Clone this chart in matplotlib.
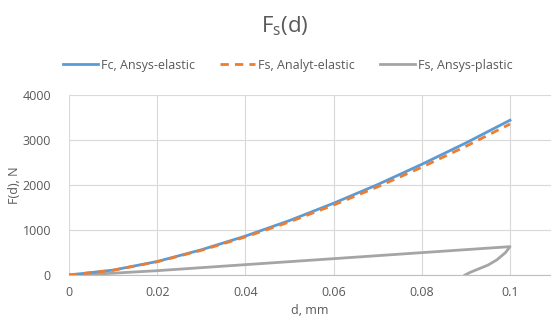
import matplotlib
matplotlib.use("Agg")
import matplotlib.pyplot as plt

plt.rcParams['font.family'] = ['Open Sans', 'DejaVu Sans']
plt.rcParams['mathtext.fontset'] = 'custom'
plt.rcParams['mathtext.rm'] = 'Open Sans'
plt.rcParams['mathtext.it'] = 'Open Sans'

# displacement, mm
d_el = [0.0, 0.01, 0.02, 0.03, 0.04, 0.05, 0.06, 0.07, 0.08, 0.09, 0.1]
# contact force, Ansys elastic model, N
fc_ansys_el = [0, 109, 300, 560, 865, 1210, 1595, 2010, 2460, 2935, 3440]
# analytical elastic solution, N
fs_analyt_el = [0, 105, 295, 548, 845, 1180, 1555, 1960, 2395, 2860, 3355]
# Ansys plastic model: loading then unloading
d_pl = [0.0, 0.005, 0.01, 0.02, 0.04, 0.06, 0.08, 0.1,
        0.099, 0.097, 0.095, 0.093, 0.091, 0.0898]
fs_ansys_pl = [0, 15, 40, 96, 230, 363, 497, 630,
               500, 335, 220, 140, 60, 0]

x_ticks = [0, 0.02, 0.04, 0.06, 0.08, 0.1]
x_tick_labels = ['0', '0.02', '0.04', '0.06', '0.08', '0.1']
y_ticks = [0, 1000, 2000, 3000, 4000]

W, H = 551, 320
fig = plt.figure(figsize=(W / 100, H / 100), dpi=100)
ax = fig.add_axes([69 / W, 1 - 275 / H, (W - 69) / W, 180 / H])

blue = '#5B9BD5'
orange = '#ED7D31'
gray = '#A5A5A5'
text_col = '#595959'

ax.plot(d_el, fc_ansys_el, color=blue, lw=2.0, label='Fc, Ansys-elastic', zorder=3)
ax.plot(d_el, fs_analyt_el, color=orange, lw=2.0, ls=(0, (3, 2.2)),
        label='Fs, Analyt-elastic', zorder=4)
ax.plot(d_pl, fs_ansys_pl, color=gray, lw=2.0, label='Fs, Ansys-plastic', zorder=2)

ax.set_xlim(0, (W - 69) / 4410)
ax.set_ylim(0, 4000)
ax.set_xticks(x_ticks)
ax.set_xticklabels(x_tick_labels)
ax.set_yticks(y_ticks)
ax.grid(True, color='#D9D9D9', lw=0.8)
ax.set_axisbelow(True)
for s in ['top', 'right', 'left']:
    ax.spines[s].set_visible(False)
ax.spines['bottom'].set_color('#BFBFBF')
ax.spines['bottom'].set_linewidth(0.8)
ax.tick_params(length=0, labelsize=9, colors=text_col, pad=8)
ax.tick_params(axis='y', pad=13)

fig.text(310 / W, 1 - 311 / H, 'd, mm', ha='center', va='center',
         fontsize=9, color=text_col)
fig.text(15 / W, 1 - 185 / H, 'F(d), N', ha='center', va='center',
         rotation=90, fontsize=9, color=text_col)
fig.text(285 / W, 1 - 26 / H, r'F$_\mathrm{s}$(d)', ha='center', va='center',
         fontsize=16, color=text_col)

fig.legend(loc='center', bbox_to_anchor=(288 / W, 1 - 65 / H), ncol=3,
           frameon=False, fontsize=9, handlelength=2.8, columnspacing=2.0,
           handletextpad=0.25, labelcolor=text_col)

fig.savefig('out.png', dpi=100)
